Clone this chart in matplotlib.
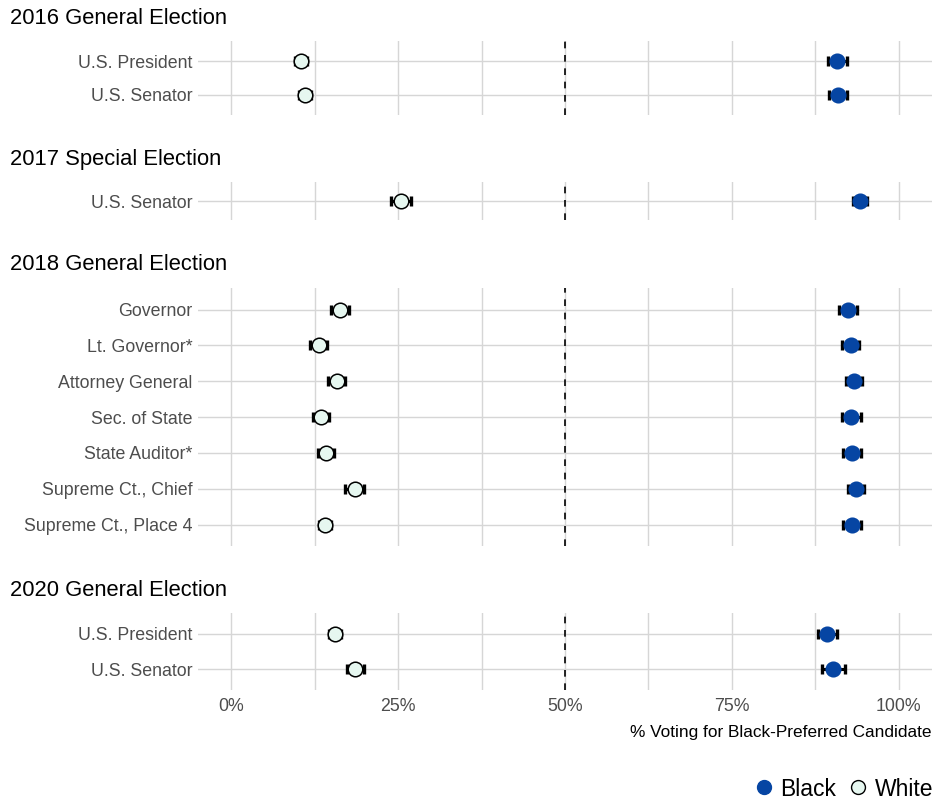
import numpy as np
import matplotlib.pyplot as plt
from matplotlib.lines import Line2D

plt.rcParams['font.family'] = ['Liberation Sans', 'DejaVu Sans']

# data
elections = ['2016 General Election', '2017 Special Election',
             '2018 General Election', '2020 General Election']

offices_2016 = ['U.S. President', 'U.S. Senator']
offices_2017 = ['U.S. Senator']
offices_2018 = ['Governor', 'Lt. Governor*', 'Attorney General', 'Sec. of State',
                'State Auditor*', 'Supreme Ct., Chief', 'Supreme Ct., Place 4']
offices_2020 = ['U.S. President', 'U.S. Senator']

black_2016 = [90.8, 90.9]
black_err_2016 = [1.4, 1.3]
white_2016 = [10.4, 11.0]
white_err_2016 = [0.9, 0.9]

black_2017 = [94.2]
black_err_2017 = [1.0]
white_2017 = [25.4]
white_err_2017 = [1.5]

black_2018 = [92.4, 92.8, 93.3, 92.9, 93.0, 93.6, 93.0]
black_err_2018 = [1.3, 1.3, 1.25, 1.4, 1.4, 1.2, 1.3]
white_2018 = [16.3, 13.1, 15.8, 13.5, 14.2, 18.5, 14.0]
white_err_2018 = [1.4, 1.3, 1.3, 1.2, 1.2, 1.4, 0.9]

black_2020 = [89.3, 90.2]
black_err_2020 = [1.45, 1.75]
white_2020 = [15.5, 18.6]
white_err_2020 = [0.9, 1.25]

panels = [
    (offices_2016, black_2016, black_err_2016, white_2016, white_err_2016),
    (offices_2017, black_2017, black_err_2017, white_2017, white_err_2017),
    (offices_2018, black_2018, black_err_2018, white_2018, white_err_2018),
    (offices_2020, black_2020, black_err_2020, white_2020, white_err_2020),
]

BLUE = '#0645a3'
WHITE_FILL = '#e6f7f0'
GRID = '#d6d6d6'

W, H = 934, 801
fig = plt.figure(figsize=(W / 100, H / 100), dpi=100)

# panel boxes in pixels (top, bottom)
boxes = [(41, 115), (182, 220), (288, 546), (613, 690)]
left_px, right_px = 198, 932

for i, (top, bot) in enumerate(boxes):
    offices, bl, ble, wh, whe = panels[i]
    ax = fig.add_axes([left_px / W, 1 - bot / H, (right_px - left_px) / W, (bot - top) / H])
    y = np.arange(len(offices))
    ax.set_ylim(len(offices) - 0.4, -0.6)
    ax.set_xlim(-5, 105)
    ax.set_xticks([0, 25, 50, 75, 100])
    ax.set_xticks([12.5, 37.5, 62.5, 87.5], minor=True)
    ax.grid(True, which='both', axis='x', color=GRID, lw=1.0)
    ax.set_yticks(y)
    ax.set_yticklabels(offices)
    ax.grid(True, axis='y', color=GRID, lw=1.0)
    ax.set_axisbelow(True)
    for s in ax.spines.values():
        s.set_visible(False)
    ax.tick_params(axis='y', length=0, pad=4, labelsize=12.8, labelcolor='#4d4d4d')
    ax.tick_params(axis='x', which='both', length=0)
    ax.axvline(50, color='black', ls=(0, (4, 4)), lw=1.2, zorder=2)

    ax.errorbar(wh, y, xerr=whe, fmt='none', ecolor='black', elinewidth=2.2,
                capsize=3.5, capthick=2.4, zorder=3)
    ax.errorbar(bl, y, xerr=ble, fmt='none', ecolor='black', elinewidth=2.2,
                capsize=3.5, capthick=2.4, zorder=3)
    ax.scatter(wh, y, s=110, color=WHITE_FILL, edgecolor='black', lw=1.1, zorder=4)
    ax.scatter(bl, y, s=110, color=BLUE, edgecolor=BLUE, lw=1.1, zorder=4)

    fig.text(10 / W, 1 - (top - 23) / H, elections[i], fontsize=15.8,
             color='black', ha='left', va='center')

    if i == len(boxes) - 1:
        ax.set_xticklabels(['0%', '25%', '50%', '75%', '100%'])
        ax.tick_params(axis='x', labelsize=12.8, labelcolor='#4d4d4d', pad=6)
    else:
        ax.set_xticklabels([])

fig.text(932 / W, 1 - 733 / H, '% Voting for Black-Preferred Candidate',
         fontsize=12.4, color='black', ha='right', va='center')

handles = [
    Line2D([], [], marker='o', ls='', markersize=10, markerfacecolor=BLUE, markeredgecolor=BLUE),
    Line2D([], [], marker='o', ls='', markersize=10, markerfacecolor=WHITE_FILL, markeredgecolor='black'),
]
fig.legend(handles, ['Black', 'White'], loc='center right', ncol=2,
           bbox_to_anchor=(933 / W, 1 - 789 / H), frameon=False, fontsize=16.5,
           handletextpad=0.1, columnspacing=0.4, handlelength=1.2,
           borderaxespad=0, borderpad=0)

plt.savefig('out.png', dpi=100)
